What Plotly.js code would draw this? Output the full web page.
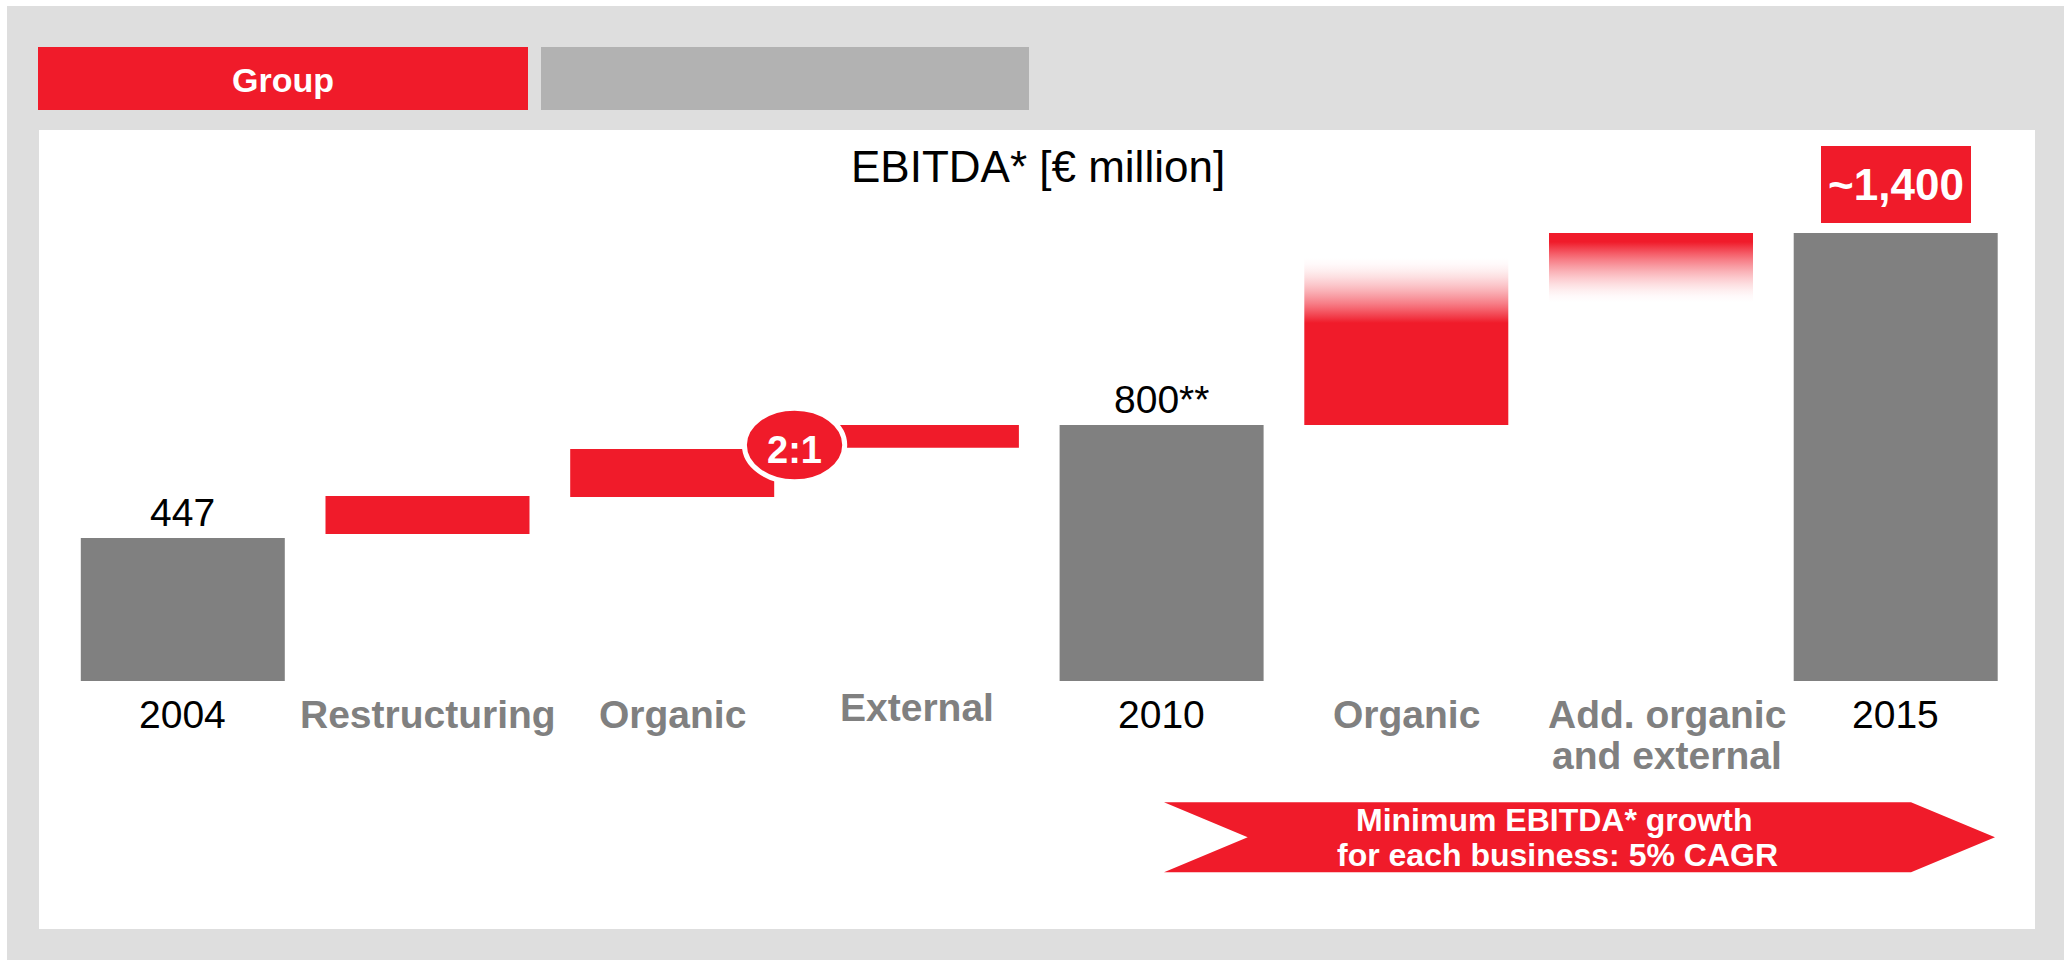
<!DOCTYPE html>
<html>
<head>
<meta charset="utf-8">
<script src="https://cdn.plot.ly/plotly-3.0.1.min.js"></script>
<style>
html,body{margin:0;padding:0;background:#ffffff;}
#chart{width:2069px;height:960px;}
</style>
</head>
<body>
<div id="chart"></div>
<script>
// ---------- DATA ----------
const categories = ["2004", "Restructuring", "Organic", "External", "2010", "Organic", "Add. organic<br>and external", "2015"];
const totalX = [0, 4, 7];
const totalValues = [447, 800, 1400];
const totalLabels = ["447", "800**", "~1,400"];
const stepX = [1, 2, 3, 5, 6];
const stepBase = [459, 575, 729, 800, 1372];
const stepTop = [578, 725, 800, 1119, 1400];
const fadeX = [5, 6];
const fadeSolidEnd = [1119, 1372];
const fadeClearEnd = [1322, 1184];
const ratioText = "2:1";
const titleText = "EBITDA* [€ million]";
const tabLabels = ["Group", ""];
const bannerLines = ["Minimum EBITDA* growth", "for each business: 5% CAGR"];

// ---------- STYLE ----------
const W = 2069, H = 960;
const RED = "rgb(240,27,42)";
const GREY_BAR = "#808080";
const GREY_TXT = "#808080";
const FRAME = "#DEDEDE";
const TAB_GREY = "#B2B2B2";
const FONT = "Liberation Sans, Arial, Helvetica, sans-serif";
const BAR_W = 0.8337;
const HW = BAR_W / 2;
const px = x => x / W;
const py = y => 1 - y / H;

function mix(a) { // red with alpha a over white
  const r = Math.round(255 + (240 - 255) * a);
  const g = Math.round(255 + (27 - 255) * a);
  const b = Math.round(255 + (42 - 255) * a);
  return `rgb(${r},${g},${b})`;
}

const traces = [];
traces.push({
  type: "bar", x: totalX, y: totalValues, width: BAR_W,
  marker: { color: GREY_BAR, line: { width: 0 } }, hoverinfo: "skip"
});
traces.push({
  type: "bar", x: stepX, base: stepBase,
  y: stepTop.map((t, i) => t - stepBase[i]), width: BAR_W,
  marker: { color: RED, line: { width: 0 } }, hoverinfo: "skip"
});

fadeX.forEach((x, i) => {
  const solid = fadeSolidEnd[i], clear = fadeClearEnd[i];
  const solidIsLow = solid < clear;
  const N = 10, cs = [];
  for (let k = 0; k <= N; k++) {
    const p = k / N;
    const t = solidIsLow ? p : 1 - p;
    cs.push([p, mix(Math.pow(1 - t, 1.6))]);
  }
  traces.push({
    type: "scatter", mode: "lines",
    x: [x - HW, x + HW, x + HW, x - HW, x - HW],
    y: [solid, solid, clear, clear, solid],
    fill: "toself", line: { width: 0, color: "rgba(0,0,0,0)" },
    fillgradient: { type: "vertical", colorscale: cs },
    hoverinfo: "skip"
  });
});

const shapes = [
  { type: "rect", xref: "paper", yref: "paper", x0: px(7), x1: px(2064), y0: py(960), y1: py(6), fillcolor: FRAME, line: { width: 0 }, layer: "below" },
  { type: "rect", xref: "paper", yref: "paper", x0: px(39), x1: px(2035), y0: py(929), y1: py(130), fillcolor: "#FFFFFF", line: { width: 0 }, layer: "below" },
  { type: "rect", xref: "paper", yref: "paper", x0: px(38), x1: px(528), y0: py(110), y1: py(47), fillcolor: RED, line: { width: 0 }, layer: "below" },
  { type: "rect", xref: "paper", yref: "paper", x0: px(541), x1: px(1029), y0: py(110), y1: py(47), fillcolor: TAB_GREY, line: { width: 0 }, layer: "below" },
  { type: "circle", xref: "x", yref: "y", x0: 2.5 - 0.205, x1: 2.5 + 0.205, y0: 737.5 - 115, y1: 737.5 + 115, fillcolor: RED, line: { color: "#FFFFFF", width: 5 } }
];
const bp = [[1164, 802.3], [1911, 802.3], [1995, 837.3], [1911, 872.3], [1164, 872.3], [1247.7, 837.3]];
shapes.push({
  type: "path", xref: "paper", yref: "paper",
  path: "M " + bp.map(p => px(p[0]) + "," + py(p[1])).join(" L ") + " Z",
  fillcolor: RED, line: { width: 0 }
});

const annotations = [];
annotations.push({ xref: "paper", yref: "paper", x: px(1037.5), y: py(166.6), text: titleText, showarrow: false, xanchor: "center", yanchor: "middle", font: { family: FONT, size: 44, color: "#000" } });
annotations.push({ xref: "paper", yref: "paper", x: px(283), y: py(80), text: tabLabels[0], showarrow: false, xanchor: "center", yanchor: "middle", font: { family: FONT, size: 34, color: "#fff", weight: "bold" } });

totalX.forEach((x, i) => {
  if (i === totalX.length - 1) {
    annotations.push({ xref: "x", yref: "paper", x: x, y: py(184.5), text: totalLabels[i], showarrow: false, xanchor: "center", yanchor: "middle", bgcolor: RED, borderpad: 0, borderwidth: 0, width: 150, height: 77, valign: "middle", font: { family: FONT, size: 44, color: "#fff", weight: "bold" } });
  } else {
    annotations.push({ xref: "x", yref: "y", x: x, y: totalValues[i], yshift: 2, text: totalLabels[i], showarrow: false, xanchor: "center", yanchor: "bottom", font: { family: FONT, size: 39, color: "#000" } });
  }
});

annotations.push({ xref: "x", yref: "y", x: 2.5, y: 722.5, text: ratioText, showarrow: false, xanchor: "center", yanchor: "middle", font: { family: FONT, size: 38, color: "#fff", weight: "bold" } });

const labelLift = { 3: 7 };
const labelNudgePx = { 6: 16 };
categories.forEach((c, i) => {
  const isTotal = totalX.indexOf(i) >= 0;
  c.split("<br>").forEach((line, k) => {
    annotations.push({
      xref: "x", yref: "paper", x: i, xshift: labelNudgePx[i] || 0,
      y: py(714.4 + k * 41 - (labelLift[i] || 0)),
      text: line, showarrow: false, xanchor: "center", yanchor: "middle",
      font: { family: FONT, size: 39, color: isTotal ? "#000" : GREY_TXT, weight: isTotal ? "normal" : "bold" }
    });
  });
});

const bannerY = [819.8, 855.3];
const bannerX = [1554, 1557];
bannerLines.forEach((t, k) => {
  annotations.push({ xref: "paper", yref: "paper", x: px(bannerX[k]), y: py(bannerY[k]), text: t, showarrow: false, xanchor: "center", yanchor: "middle", font: { family: FONT, size: 32, color: "#fff", weight: "bold" } });
});

const layout = {
  width: W, height: H,
  margin: { l: 0, r: 0, t: 0, b: 0 },
  paper_bgcolor: "#FFFFFF", plot_bgcolor: "rgba(0,0,0,0)",
  showlegend: false, barmode: "overlay",
  xaxis: { domain: [60.45 / W, 2018.05 / W], range: [-0.5, 7.5], visible: false, fixedrange: true },
  yaxis: { domain: [py(681), py(137)], range: [0, 1700], visible: false, fixedrange: true },
  shapes: shapes, annotations: annotations
};

Plotly.newPlot("chart", traces, layout, { displayModeBar: false, staticPlot: true });
</script>
</body>
</html>
